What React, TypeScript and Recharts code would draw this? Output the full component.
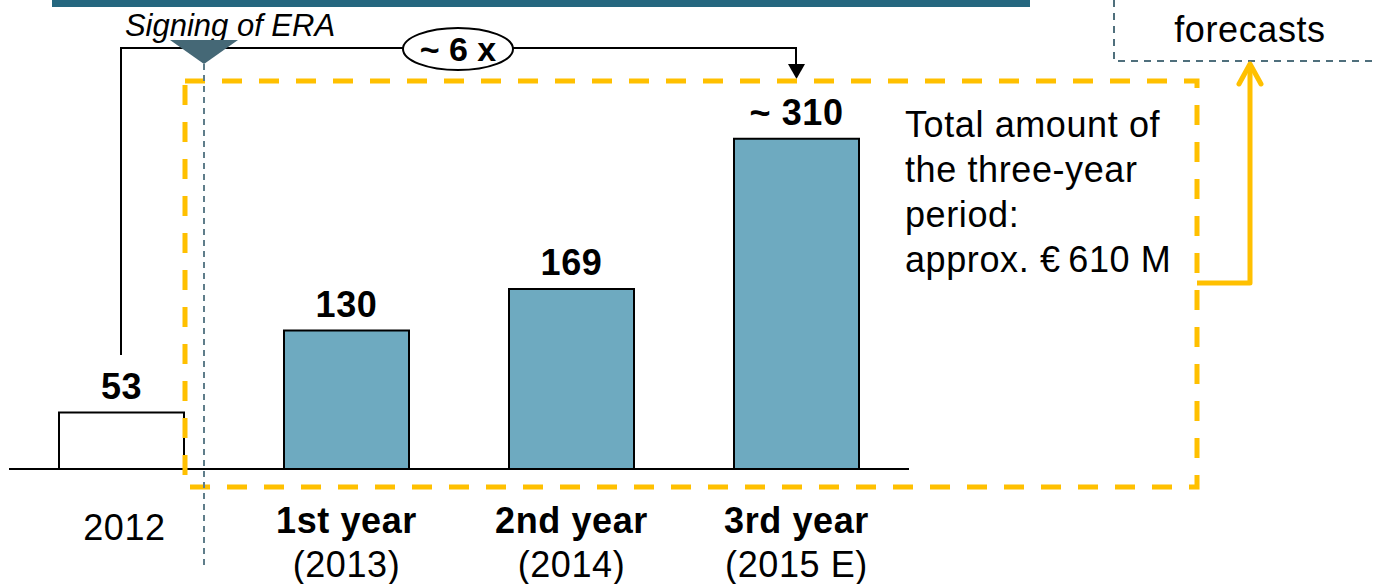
import React from "react";
import { BarChart, Bar, XAxis, YAxis, Cell, LabelList } from "recharts";

const categories = ["2012", "1st year", "2nd year", "3rd year"];
const subLabels = ["", "(2013)", "(2014)", "(2015 E)"];
const values = [53, 130, 169, 310];
const valueLabels = ["53", "130", "169", "~ 310"];
const barFills = ["#FFFFFF", "#6EAAC0", "#6EAAC0", "#6EAAC0"];
const noteLines = ["Total amount of", "the three-year", "period:", "approx. \u20AC\u2009610 M"];

const data = categories.map((c, i) => ({ cat: c, value: values[i] }));

const FONT = '"Liberation Sans", Arial, Helvetica, sans-serif';
const LS = 0.6;

const XTick = (props: any) => {
  const { x, y, index } = props;
  const sub = subLabels[index];
  if (!sub) {
    return (
      <text x={x + 3} y={y + 71} textAnchor="middle" fontSize={36} letterSpacing={LS} fontFamily={FONT} fill="#000">
        {categories[index]}
      </text>
    );
  }
  return (
    <g>
      <text x={x} y={y + 64} textAnchor="middle" fontSize={36} letterSpacing={LS} fontWeight="bold" fontFamily={FONT} fill="#000">
        {categories[index]}
      </text>
      <text x={x} y={y + 108} textAnchor="middle" fontSize={36} letterSpacing={LS} fontFamily={FONT} fill="#000">
        {sub}
      </text>
    </g>
  );
};

const ValueLabel = (props: any) => {
  const { x, y, width, index } = props;
  return (
    <text x={x + width / 2} y={y - 14} textAnchor="middle" fontSize={36} letterSpacing={LS} fontWeight="bold" fontFamily={FONT} fill="#000">
      {valueLabels[index]}
    </text>
  );
};

export default function App() {
  return (
    <div style={{ position: "absolute", left: 0, top: 0, width: 1378, height: 584, background: "#fff", fontFamily: FONT }}>
      <BarChart
        width={1378}
        height={584}
        data={data}
        margin={{ top: 43, right: 469, bottom: 0, left: 9 }}
      >
        <YAxis hide domain={[0, 400]} />
        <XAxis
          dataKey="cat"
          height={115}
          tickLine={false}
          tickSize={0}
          tickMargin={0}
          interval={0}
          axisLine={{ stroke: "#000", strokeWidth: 2 }}
          tick={<XTick />}
        />
        <Bar dataKey="value" barSize={125} stroke="#000" strokeWidth={2} isAnimationActive={false}>
          {data.map((d, i) => (
            <Cell key={i} fill={barFills[i]} />
          ))}
          <LabelList dataKey="value" content={<ValueLabel />} />
        </Bar>
      </BarChart>
      <svg
        width={1378}
        height={584}
        style={{ position: "absolute", left: 0, top: 0, pointerEvents: "none" }}
      >
        {/* top band */}
        <rect x={52} y={0} width={978} height={7} fill="#25677F" />
        {/* forecasts box */}
        <path d="M1114 0 V61 H1378" fill="none" stroke="#4F6F7C" strokeWidth={2} strokeDasharray="7 6" />
        <text x={1250} y={42} textAnchor="middle" fontSize={36} letterSpacing={LS} fontFamily={FONT} fill="#000">forecasts</text>
        {/* signing of ERA */}
        <text x={230} y={36} textAnchor="middle" fontSize={31} fontStyle="italic" fontFamily={FONT} fill="#000">Signing of ERA</text>
        {/* black connector */}
        <path d="M121 355 V48 H796 V66" fill="none" stroke="#000" strokeWidth={2} />
        <polygon points="788,64 805,64 796.5,79" fill="#000" />
        <ellipse cx={458} cy={49} rx={55} ry={21} fill="#fff" stroke="#000" strokeWidth={2} />
        <text x={458} y={61} textAnchor="middle" fontSize={34} fontWeight="bold" fontFamily={FONT} fill="#000">~ 6 x</text>
        {/* yellow dashed box */}
        <rect x={185} y={81} width={1012} height={406} fill="none" stroke="#FFC000" strokeWidth={5} strokeDasharray="20 17" />
        {/* yellow arrow */}
        <path d="M1197 283 H1250 V64" fill="none" stroke="#FFC000" strokeWidth={5} strokeLinejoin="round" />
        <path d="M1239 84 L1250 64 L1261 84" fill="none" stroke="#FFC000" strokeWidth={5} strokeLinecap="round" strokeLinejoin="round" />
        {/* signing marker */}
        <polygon points="170,40 238,40 204,64" fill="#456876" />
        <line x1={204} y1={64} x2={204} y2={568} stroke="#5F7D8A" strokeWidth={2} strokeDasharray="6 5" />
        {/* note */}
        {noteLines.map((t, i) => (
          <text key={i} x={905} y={137 + i * 45} fontSize={36} letterSpacing={LS} fontFamily={FONT} fill="#000">{t}</text>
        ))}
      </svg>
    </div>
  );
}
